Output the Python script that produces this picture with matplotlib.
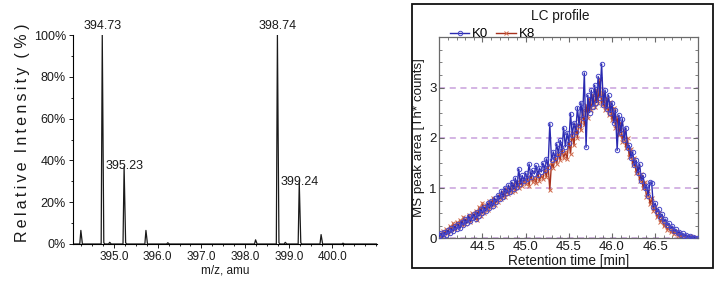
import matplotlib
matplotlib.use("Agg")
import matplotlib.pyplot as plt
from matplotlib.patches import Rectangle
from matplotlib.ticker import MultipleLocator, FuncFormatter

plt.rcParams['font.family'] = ['Liberation Sans', 'DejaVu Sans']

# ---- left panel: mass spectrum ----
peak_mz = [394.24, 394.73, 394.90, 395.23, 395.73, 396.23,
           398.24, 398.74, 398.92, 399.24, 399.74, 400.24]
peak_int = [6.5, 100, 0.8, 37, 6.5, 0.6,
            2.0, 100, 0.8, 29.5, 4.5, 0.4]
label_mz = [394.73, 395.23, 398.74, 399.24]
label_txt = ['394.73', '395.23', '398.74', '399.24']
mz_ticks = [395.0, 396.0, 397.0, 398.0, 399.0, 400.0]
pct_ticks = [0, 20, 40, 60, 80, 100]

# ---- right panel: LC profile ----
rt = [44.00, 44.02, 44.04, 44.06, 44.08, 44.10, 44.12, 44.14, 44.16, 44.18,
      44.20, 44.22, 44.24, 44.26, 44.28, 44.30, 44.32, 44.34, 44.36, 44.38,
      44.40, 44.42, 44.44, 44.46, 44.48, 44.50, 44.52, 44.54, 44.56, 44.58,
      44.60, 44.62, 44.64, 44.66, 44.68, 44.70, 44.72, 44.74, 44.76, 44.78,
      44.80, 44.82, 44.84, 44.86, 44.88, 44.90, 44.92, 44.94, 44.96, 44.98,
      45.00, 45.02, 45.04, 45.06, 45.08, 45.10, 45.12, 45.14, 45.16, 45.18,
      45.20, 45.22, 45.24, 45.26, 45.28, 45.30, 45.32, 45.34, 45.36, 45.38,
      45.40, 45.42, 45.44, 45.46, 45.48, 45.50, 45.52, 45.54, 45.56, 45.58,
      45.60, 45.62, 45.64, 45.66, 45.68, 45.70, 45.72, 45.74, 45.76, 45.78,
      45.80, 45.82, 45.84, 45.86, 45.88, 45.90, 45.92, 45.94, 45.96, 45.98,
      46.00, 46.02, 46.04, 46.06, 46.08, 46.10, 46.12, 46.14, 46.16, 46.18,
      46.20, 46.22, 46.24, 46.26, 46.28, 46.30, 46.32, 46.34, 46.36, 46.38,
      46.40, 46.42, 46.44, 46.46, 46.48, 46.50, 46.52, 46.54, 46.56, 46.58,
      46.60, 46.62, 46.64, 46.66, 46.68, 46.70, 46.72, 46.74, 46.76, 46.78,
      46.80, 46.82, 46.84, 46.86, 46.88, 46.90, 46.92, 46.94, 46.96, 46.98]
k0 = [0.04, 0.10, 0.02, 0.12, 0.07, 0.16, 0.10, 0.20, 0.14, 0.24,
      0.18, 0.28, 0.20, 0.33, 0.26, 0.38, 0.30, 0.44, 0.34, 0.40,
      0.48, 0.38, 0.52, 0.44, 0.58, 0.50, 0.62, 0.54, 0.70, 0.60,
      0.74, 0.64, 0.80, 0.72, 0.86, 0.78, 0.94, 0.82, 1.00, 0.90,
      1.06, 0.92, 1.12, 0.98, 1.20, 1.02, 1.38, 1.08, 1.25, 1.14,
      1.30, 1.18, 1.48, 1.22, 1.35, 1.28, 1.45, 1.26, 1.40, 1.32,
      1.50, 1.36, 1.58, 1.42, 2.28, 1.55, 1.72, 1.60, 1.88, 1.68,
      1.95, 1.75, 2.20, 1.82, 2.10, 1.90, 2.48, 2.05, 2.30, 2.12,
      2.60, 2.25, 2.70, 2.40, 3.29, 1.81, 2.85, 2.50, 2.95, 2.62,
      3.05, 2.70, 3.22, 2.80, 3.47, 2.65, 2.95, 2.58, 2.85, 2.50,
      2.70, 2.30, 2.55, 1.75, 2.45, 2.10, 2.38, 1.95, 2.20, 1.80,
      1.85, 1.60, 1.72, 1.45, 1.55, 1.30, 1.48, 1.15, 1.25, 1.00,
      1.05, 0.85, 1.12, 1.10, 0.62, 0.70, 0.52, 0.58, 0.42, 0.48,
      0.34, 0.38, 0.26, 0.30, 0.20, 0.24, 0.14, 0.18, 0.10, 0.13,
      0.07, 0.10, 0.04, 0.07, 0.02, 0.05, 0.01, 0.03, 0.01, 0.00]
k8 = [0.08, 0.02, 0.14, 0.06, 0.18, 0.10, 0.24, 0.14, 0.30, 0.18,
      0.32, 0.22, 0.36, 0.26, 0.42, 0.28, 0.38, 0.46, 0.32, 0.50,
      0.40, 0.55, 0.36, 0.62, 0.45, 0.70, 0.50, 0.66, 0.56, 0.74,
      0.62, 0.80, 0.66, 0.76, 0.72, 0.86, 0.78, 0.92, 0.82, 0.98,
      0.88, 1.02, 0.92, 1.08, 0.95, 1.12, 1.00, 1.18, 1.04, 1.15,
      1.08, 1.22, 1.05, 1.28, 1.12, 1.20, 1.10, 1.32, 1.15, 1.25,
      1.18, 1.38, 1.22, 1.45, 0.96, 1.52, 1.40, 1.62, 1.48, 1.70,
      1.55, 1.78, 1.60, 1.72, 1.58, 1.95, 1.68, 2.10, 1.85, 2.25,
      2.00, 2.40, 2.15, 2.55, 2.25, 2.65, 2.40, 2.78, 2.55, 2.85,
      2.62, 2.95, 2.70, 3.18, 2.65, 2.90, 2.55, 2.80, 2.45, 2.72,
      2.35, 2.60, 2.20, 2.42, 2.05, 2.30, 1.92, 2.15, 1.80, 2.00,
      1.62, 1.78, 1.45, 1.60, 1.30, 1.42, 1.15, 1.28, 1.00, 1.12,
      0.82, 0.95, 0.68, 0.80, 0.55, 0.62, 0.42, 0.50, 0.32, 0.40,
      0.24, 0.30, 0.16, 0.22, 0.12, 0.18, 0.08, 0.14, 0.05, 0.10,
      0.03, 0.07, 0.02, 0.05, 0.01, 0.04, 0.00, 0.02, 0.01, 0.00]
rt_ticks = [44.5, 45.0, 45.5, 46.0, 46.5]
area_ticks = [0, 1, 2, 3]

W, H = 719, 282
fig = plt.figure(figsize=(W / 100, H / 100), dpi=100)


def box(l, t, r, b):
    # pixel box -> figure fraction rect
    return [l / W, (H - b) / H, (r - l) / W, (b - t) / H]


# ---------- mass spectrum ----------
ax1 = fig.add_axes(box(73, 35, 377, 244))
xs, ys = [394.08], [0]
for mz, h in zip(peak_mz, peak_int):
    xs += [mz - 0.025, mz, mz + 0.035, mz + 0.06]
    ys += [0, h, 0.6 if h > 20 else 0, 0]
xs.append(401.04)
ys.append(0)
ax1.plot(xs, ys, color='#1a1a1a', lw=0.9)
ax1.set_xlim(394.06, 401.02)
ax1.set_ylim(0, 100)
ax1.set_xticks(mz_ticks)
ax1.set_xticklabels([f'{v:.1f}' for v in mz_ticks])
ax1.set_yticks(pct_ticks)
ax1.yaxis.set_major_formatter(FuncFormatter(lambda v, p: f'{v:.0f}%'))
ax1.xaxis.set_minor_locator(MultipleLocator(0.25))
ax1.yaxis.set_minor_locator(MultipleLocator(10))
for s in ['top', 'right']:
    ax1.spines[s].set_visible(False)
for s in ['left', 'bottom']:
    ax1.spines[s].set_linewidth(0.8)
ax1.tick_params(axis='both', which='major', length=3, width=0.7, pad=2,
                colors='#1a1a1a')
ax1.tick_params(axis='x', labelsize=8.5)
ax1.tick_params(axis='y', labelsize=9)
ax1.tick_params(which='minor', length=1.5, width=0.6)

lab_pos = {394.73: (0, 2), 395.23: (0, -4), 398.74: (0, 2), 399.24: (0, -4)}
for mz, txt in zip(label_mz, label_txt):
    h = peak_int[peak_mz.index(mz)]
    dx, dy = lab_pos[mz]
    ax1.annotate(txt, (mz, h), xytext=(dx, dy), textcoords='offset points',
                 ha='center', va='bottom', fontsize=9, color='#1a1a1a',
                 annotation_clip=False)
ax1.set_xlabel('m/z, amu', fontsize=8.5, labelpad=1, color='#1a1a1a')

spaced = ('\u2009'.join('Relative') + '  ' + '\u2009'.join('Intensity')
          + '  ( % )')
fig.text(23 / W, (H - 133) / H, spaced, rotation=90, ha='center', va='center',
         fontsize=11.5, color='#1a1a1a')

# ---------- LC profile ----------
fig.patches.append(Rectangle((411.7 / W, (H - 268) / H), 301 / W, 263.7 / H,
                             transform=fig.transFigure, fill=False,
                             edgecolor='#111111', lw=1.3))
ax2 = fig.add_axes(box(439.3, 37.3, 698.3, 238.3))
for y in area_ticks:
    ax2.axhline(y, color='#c9a0dc', lw=1.1, ls=(0, (4, 3)), zorder=1)
ax2.plot(rt, k8, color='#a8321e', lw=1.0, marker='x', ms=3.2, mew=0.7,
         mec='#d0694a', label='K8', zorder=2)
ax2.plot(rt, k0, color='#2a2ab0', lw=1.0, marker='o', ms=3.2, mew=0.7,
         mfc='none', mec='#4848c8', label='K0', zorder=3)
ax2.set_xlim(44.0, 47.0)
ax2.set_ylim(0, 4.0)
ax2.set_xticks(rt_ticks)
ax2.set_xticklabels([f'{v:.1f}' for v in rt_ticks])
ax2.set_yticks(area_ticks)
ax2.xaxis.set_minor_locator(MultipleLocator(0.1))
ax2.yaxis.set_minor_locator(MultipleLocator(0.25))
for s in ax2.spines.values():
    s.set_color('#6a6a6a')
    s.set_linewidth(0.9)
ax2.tick_params(axis='both', which='both', direction='in', top=True,
                right=True, colors='#6a6a6a', labelcolor='#1a1a1a',
                labelsize=9.5, pad=2)
ax2.tick_params(which='major', length=3.5, width=0.8)
ax2.tick_params(which='minor', length=2, width=0.6)
ax2.set_xlabel('Retention time [min]', fontsize=9.8, labelpad=1,
               color='#1a1a1a')
ax2.set_ylabel('MS peak area [Th* counts]', fontsize=9.6, labelpad=3,
               color='#1a1a1a')

h, l = ax2.get_legend_handles_labels()
ax2.legend(h[::-1], l[::-1], ncol=2, loc='lower left',
           bbox_to_anchor=(0.04, 0.985), frameon=False, fontsize=9.5,
           handlelength=1.5, handletextpad=0.2, columnspacing=0.6,
           borderpad=0, borderaxespad=0)
fig.text(560 / W, (H - 16) / H, 'LC profile', ha='center', va='center',
         fontsize=9.8, color='#1a1a1a')

fig.savefig('out.png', dpi=100)
